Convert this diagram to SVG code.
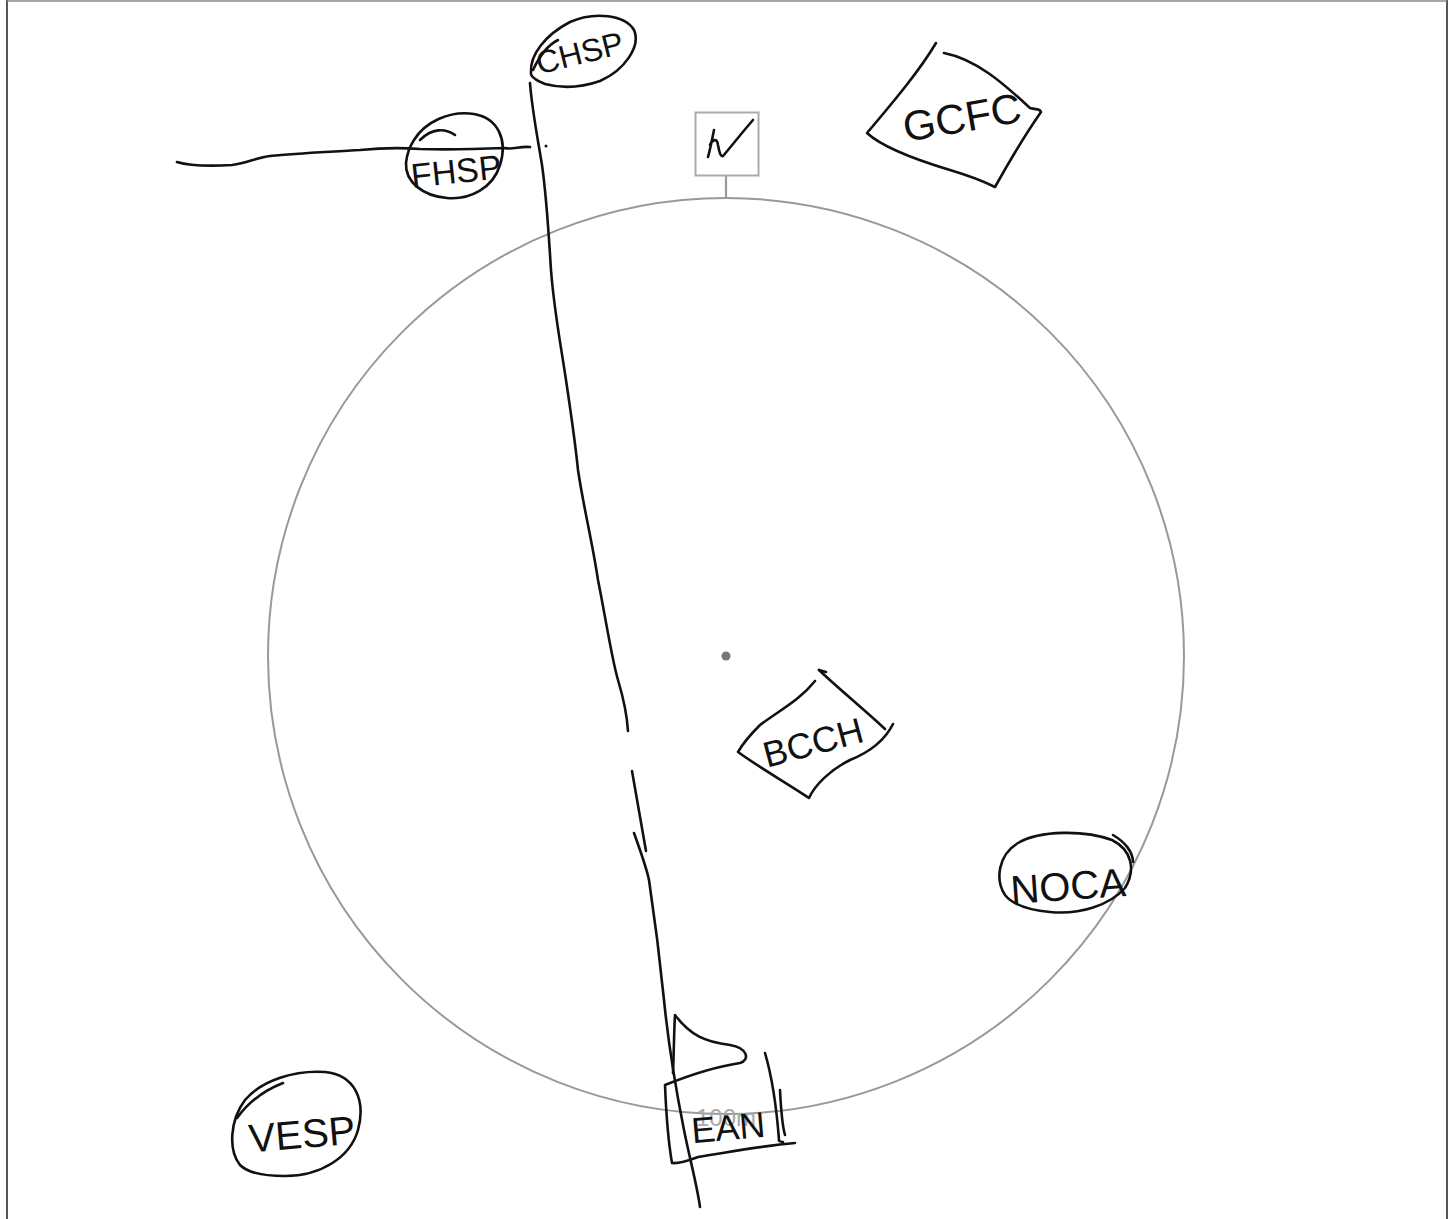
<svg xmlns="http://www.w3.org/2000/svg" width="1450" height="1219" viewBox="0 0 1450 1219">
<style>
.ink{fill:none;stroke:#111;stroke-width:2.6;stroke-linecap:round;stroke-linejoin:round}
.hand{font-family:"Liberation Sans","DejaVu Sans",sans-serif;fill:#111;font-weight:normal}
.guide{fill:none;stroke:#999;stroke-width:2}
</style>
<rect x="0" y="0" width="1450" height="1219" fill="#fff"/>
<!-- frame -->
<g id="frame">
<line x1="7" y1="0" x2="7" y2="1219" stroke="#555" stroke-width="2"/>
<line x1="1447" y1="0" x2="1447" y2="1219" stroke="#555" stroke-width="2"/>
<line x1="7" y1="1" x2="1447" y2="1" stroke="#888" stroke-width="1.5"/>
</g>
<!-- main circle -->
<g id="ring">
<circle cx="726" cy="656" r="458" class="guide" stroke-width="1.6"/>
<circle cx="726" cy="656" r="4.5" fill="#777"/>
<text x="726" y="1126" text-anchor="middle" font-family="Liberation Sans, sans-serif" font-size="24" fill="#aaa">100m</text>
</g>
<g id="connectors">
<line x1="726" y1="176" x2="726" y2="199" stroke="#999" stroke-width="2.2"/>
<path class="ink" d="M530,83 C532,110 538,140 542,165 C547,200 549,240 551,270 C554,310 560,340 566,380 C572,420 575,440 578,470 C584,510 592,540 598,580 C606,620 612,660 618,680 C624,700 627,715 628,731"/>
<path class="ink" d="M632,771 L646,851"/>
<path class="ink" d="M634,833 C640,850 646,866 649,880 C655,920 660,960 664,1000 C668,1040 676,1090 684,1130 C690,1160 697,1185 700,1207"/>
<path class="ink" d="M177,162 C190,166 215,166 232,165 C248,163 255,158 270,156 C300,153 330,152 360,150 C380,148 395,147 420,149 C450,150 480,149 505,148 C512,150 520,146 530,147"/>
<circle cx="546" cy="146" r="1.5" fill="#111"/>
</g>
<!-- N box -->
<g id="node-n">
<rect x="695.5" y="112.5" width="63" height="63" fill="#fff" stroke="#aaa" stroke-width="2"/>
<path class="ink" d="M714,130 C712,140 710,150 708,157 M710,145 C712,140 717,137 718,145 C719,150 720,157 723,156 C730,148 740,135 753,120"/>
</g>
<!-- CHSP -->
<g id="node-chsp">
<path class="ink" d="M531,72 C530,55 545,35 570,22 C595,11 625,15 634,30 C641,46 625,70 600,81 C580,88 560,88 545,84 C535,80 530,76 531,72 Z"/>
<path class="ink" d="M533,70 C540,55 548,45 558,40"/>
<text class="hand" x="580" y="64" font-size="32" text-anchor="middle" transform="rotate(-14 580 54)">CHSP</text>
</g>
<!-- FHSP -->
<g id="node-fhsp">
<path class="ink" d="M414,140 C425,122 450,110 474,114 C498,118 508,140 500,165 C493,188 470,200 447,198 C423,196 405,182 406,163 C407,153 410,146 414,140 Z"/>
<path class="ink" d="M420,140 C432,128 445,128 455,135"/>
<text class="hand" x="456" y="183" font-size="34" text-anchor="middle" transform="rotate(-6 456 170)">FHSP</text>
</g>
<!-- GCFC -->
<g id="node-gcfc">
<path class="ink" d="M936,43 C920,70 895,100 867,133 C880,145 910,158 950,170 C970,176 985,182 995,187 C1010,160 1025,135 1041,112 C1040,108 1036,110 1030,108 C1010,90 980,60 944,53"/>
<text class="hand" x="962" y="132" font-size="42" text-anchor="middle" transform="rotate(-10 962 118)">GCFC</text>
</g>
<!-- BCCH -->
<g id="node-bcch">
<path class="ink" d="M815,681 C800,700 780,710 760,725 C750,735 742,745 738,752 C760,768 790,785 809,798 C815,785 830,770 850,760 C870,752 885,740 893,724"/>
<path class="ink" d="M819,670 C840,690 865,710 885,729"/>
<path class="ink" d="M819,670 L826,672"/>
<text class="hand" x="813" y="755" font-size="36" text-anchor="middle" transform="rotate(-15 813 742)">BCCH</text>
</g>
<!-- NOCA -->
<g id="node-noca">
<path class="ink" d="M1005,895 C995,880 998,855 1018,843 C1040,830 1085,830 1112,840 C1132,850 1136,870 1125,888 C1110,905 1080,915 1050,912 C1028,910 1013,905 1005,895 Z"/>
<path class="ink" d="M1113,835 C1125,842 1133,852 1133,862"/>
<text class="hand" x="1068" y="900" font-size="40" text-anchor="middle" transform="rotate(-4 1068 885)">NOCA</text>
</g>
<!-- EAN -->
<g id="node-ean">
<path class="ink" d="M673,1073 C674,1050 674,1030 675,1015 C690,1035 705,1042 730,1045 C748,1048 750,1060 740,1063 C720,1066 690,1075 665,1085 C666,1110 668,1140 672,1163 C680,1164 690,1160 698,1157 C730,1152 760,1146 795,1143"/>
<path class="ink" d="M765,1053 C770,1070 776,1100 779,1140 C778,1141 782,1142 783,1142"/>
<path class="ink" d="M780,1090 C781,1110 782,1125 785,1135"/>
<text class="hand" x="728" y="1140" font-size="36" text-anchor="middle" transform="rotate(-5 728 1125)">EAN</text>
</g>
<!-- VESP -->
<g id="node-vesp">
<path class="ink" d="M240,1165 C228,1150 230,1120 245,1100 C262,1080 295,1070 325,1072 C355,1075 366,1100 358,1130 C350,1158 320,1176 285,1176 C262,1176 247,1172 240,1165 Z"/>
<path class="ink" d="M237,1118 C250,1100 265,1090 283,1083"/>
<text class="hand" x="302" y="1148" font-size="40" text-anchor="middle" transform="rotate(-5 302 1135)">VESP</text>
</g>
</svg>
